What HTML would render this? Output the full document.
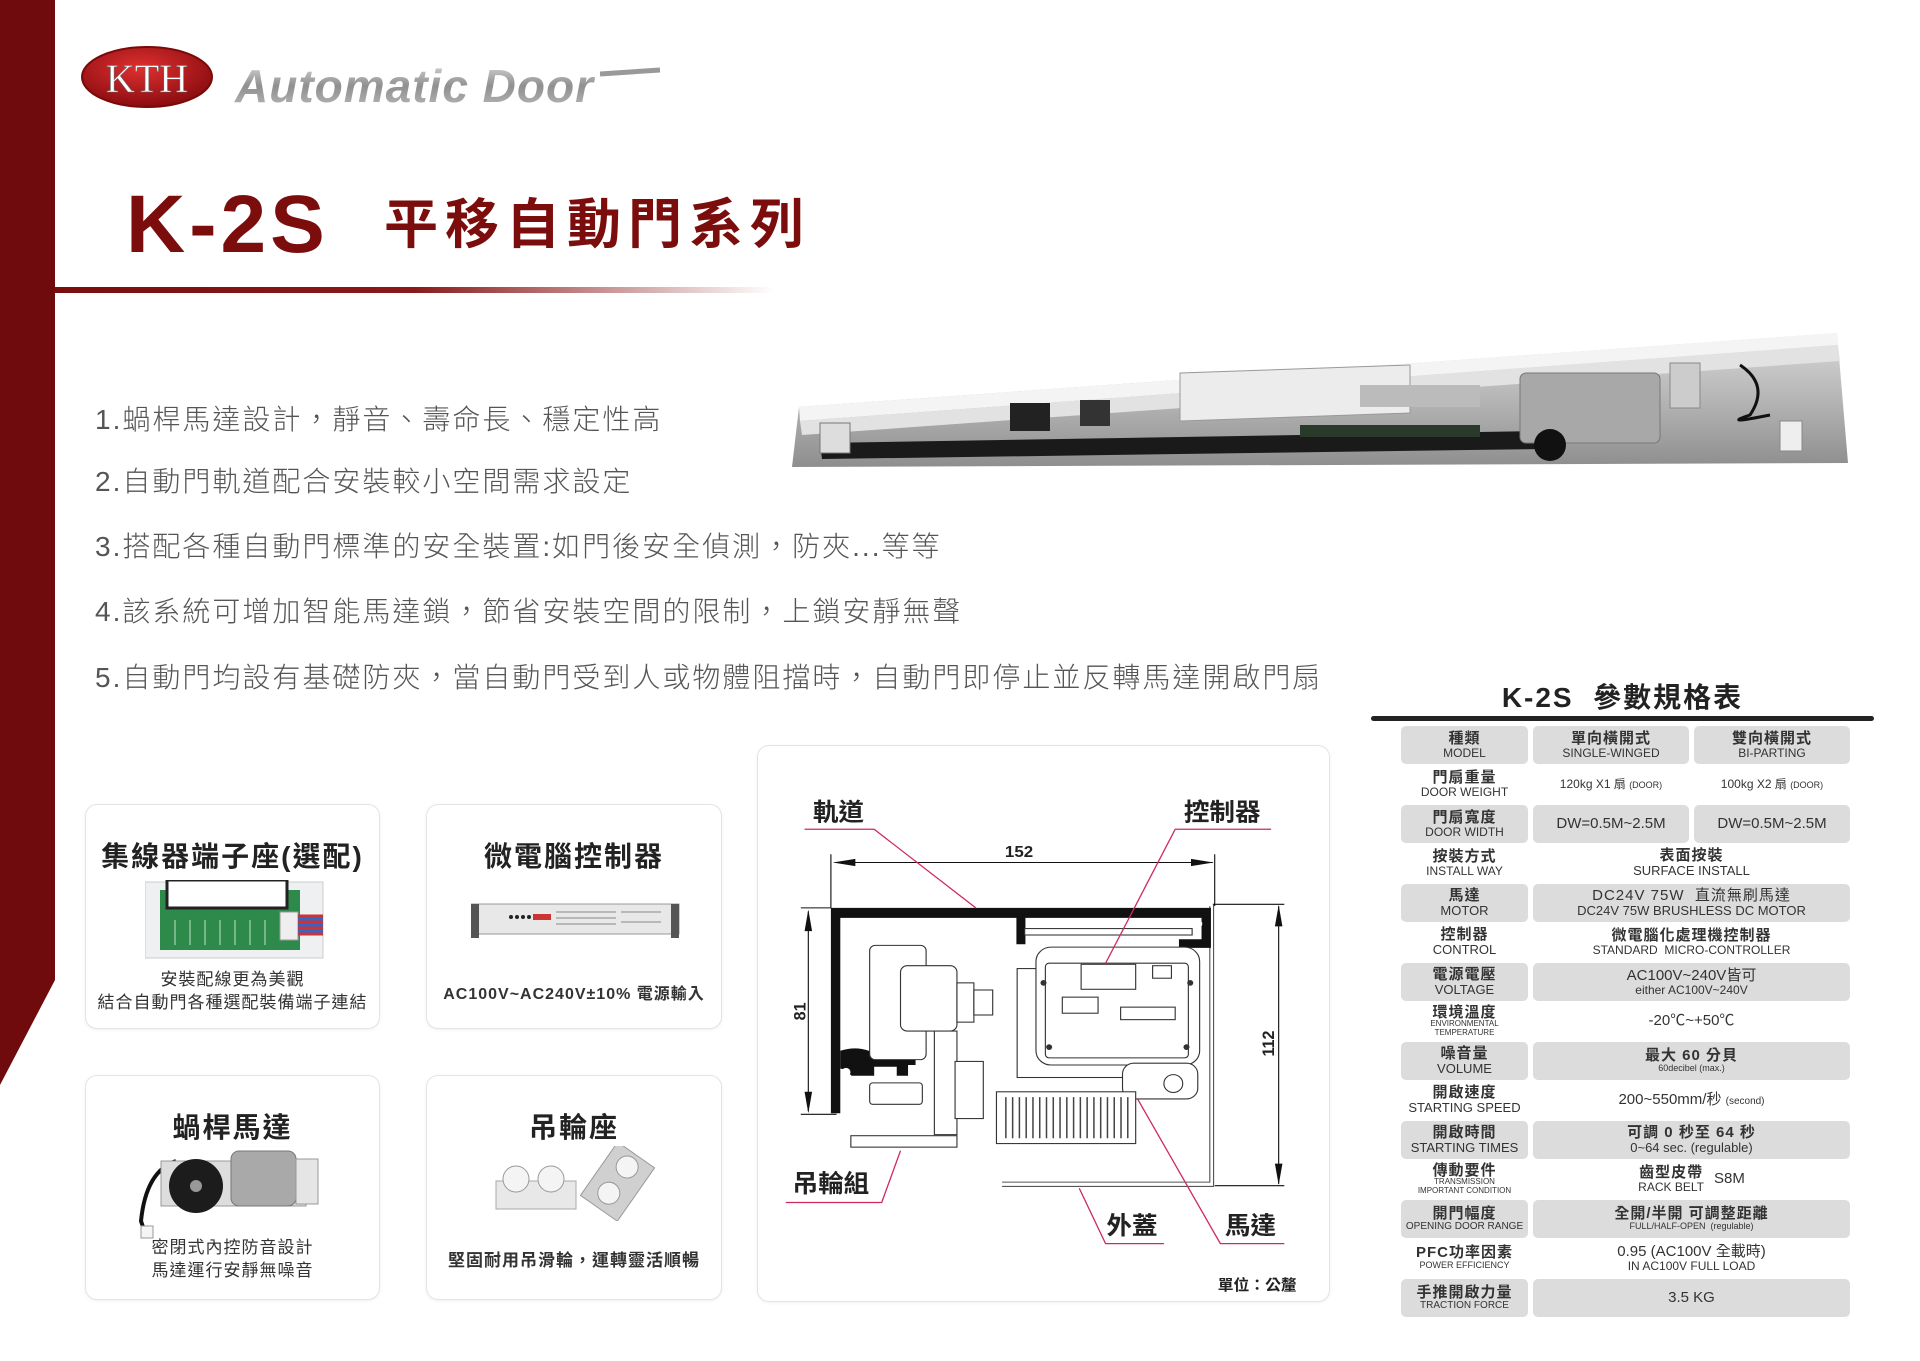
<!DOCTYPE html>
<html><head><meta charset="utf-8">
<style>
*{margin:0;padding:0;box-sizing:border-box}
body{width:1920px;height:1361px;background:#fff;position:relative;overflow:hidden;font-family:"Liberation Sans","Noto Sans CJK TC",sans-serif;color:#333}
.abs{position:absolute}
.bul{position:absolute;left:95px;font-size:28px;letter-spacing:2px;color:#555;line-height:34px;white-space:nowrap;font-weight:300}
.card{position:absolute;border:1.5px solid #e4e4e4;border-radius:12px;background:#fff;box-shadow:0 1px 3px rgba(0,0,0,.06)}
.ct{position:absolute;left:0;right:0;text-align:center;font-weight:bold;font-size:28px;letter-spacing:2px;color:#222;white-space:nowrap}
.cx{position:absolute;left:0;right:0;text-align:center;font-size:17px;letter-spacing:1px;color:#333;white-space:nowrap;font-weight:bold}
.row{position:absolute;left:1401px;width:449px;height:38px}
.c{position:absolute;top:0;height:38px;display:flex;flex-direction:column;align-items:center;justify-content:center;text-align:center;border-radius:5px;line-height:1.05;white-space:nowrap;color:#333}
.s .c{background:#dcdcdc}
.c1{left:0;width:127px}
.c2{left:132px;width:156px}
.c3{left:293px;width:156px}
.cm{left:132px;width:317px}
.z{font-size:15px;font-weight:bold;letter-spacing:1px}
.e{font-size:12px}
.v{font-size:15px}
</style></head><body>

<svg class="abs" style="left:0;top:0" width="60" height="1100"><polygon points="0,0 55,0 55,980 0,1085" fill="#6f0a0d"/></svg>

<svg class="abs" style="left:80px;top:44px" width="600" height="70">
<defs><radialGradient id="lg" cx="45%" cy="35%" r="65%"><stop offset="0" stop-color="#e03030"/><stop offset="1" stop-color="#8a0c10"/></radialGradient>
<linearGradient id="sg" x1="0" y1="0" x2="0" y2="1"><stop offset="0" stop-color="#e0e0e0"/><stop offset=".5" stop-color="#8f8f8f"/><stop offset="1" stop-color="#bdbdbd"/></linearGradient></defs>
<ellipse cx="67" cy="33" rx="65" ry="30" fill="url(#lg)" stroke="#7a0a0a" stroke-width="2"/>
<text x="67" y="48" text-anchor="middle" font-family="Liberation Serif,serif" font-size="40" fill="#fff" stroke="#666" stroke-width=".6">KTH</text>
<text x="155" y="58" font-family="Liberation Sans,sans-serif" font-style="italic" font-weight="bold" font-size="46" letter-spacing="1" fill="url(#sg)">Automatic Door</text>
<line x1="520" y1="30" x2="580" y2="26" stroke="#999" stroke-width="5"/>
</svg>

<div class="abs" style="left:126px;top:180px;font-size:82px;font-weight:900;color:#7b0d0d;letter-spacing:4px;line-height:90px;font-family:'Liberation Sans',sans-serif">K-2S</div>
<div class="abs" style="left:384px;top:192px;font-size:54px;font-weight:bold;color:#7b0d0d;letter-spacing:7px;line-height:66px;font-family:'Liberation Sans','Noto Sans CJK TC',sans-serif">平移自動門系列</div>
<div class="abs" style="left:55px;top:287px;width:720px;height:6px;background:linear-gradient(90deg,#7b0d0d 0%,#8a1a1a 50%,rgba(160,60,60,0) 100%)"></div>

<div class="bul" style="top:403px">1.蝸桿馬達設計，靜音、壽命長、穩定性高</div>
<div class="bul" style="top:465px">2.自動門軌道配合安裝較小空間需求設定</div>
<div class="bul" style="top:530px">3.搭配各種自動門標準的安全裝置:如門後安全偵測，防夾...等等</div>
<div class="bul" style="top:595px">4.該系統可增加智能馬達鎖，節省安裝空間的限制，上鎖安靜無聲</div>
<div class="bul" style="top:661px">5.自動門均設有基礎防夾，當自動門受到人或物體阻擋時，自動門即停止並反轉馬達開啟門扇</div>

<svg class="abs" style="left:780px;top:325px" width="1080" height="150">
<defs><linearGradient id="al" x1="0" y1="0" x2="0" y2="1"><stop offset="0" stop-color="#d8d8d8"/><stop offset=".5" stop-color="#b5b5b5"/><stop offset="1" stop-color="#8e8e8e"/></linearGradient></defs>
<polygon points="19,82 1057,8 1068,138 12,142" fill="url(#al)"/>
<polygon points="19,82 1057,8 1058,20 20,96" fill="#f4f4f4"/>
<polygon points="20,96 1058,20 1060,36 22,110" fill="#e2e2e2"/>
<polygon points="40,118 760,106 765,124 42,134" fill="#1a1a1a"/>
<rect x="400" y="62" width="230" height="48" fill="#ececec" stroke="#999" transform="skewY(-2)"/>
<rect x="230" y="78" width="40" height="28" fill="#222"/>
<rect x="300" y="75" width="30" height="26" fill="#333"/>
<rect x="520" y="100" width="180" height="12" fill="#2a3a2a"/>
<rect x="580" y="60" width="120" height="22" fill="#bbb"/>
<rect x="740" y="48" width="140" height="70" rx="6" fill="#a8a8a8" stroke="#777"/>
<circle cx="770" cy="120" r="16" fill="#111"/>
<rect x="890" y="38" width="30" height="45" fill="#ccc" stroke="#888"/>
<path d="M960,40 q30,20 10,50 q-30,10 20,0" stroke="#111" stroke-width="3" fill="none"/>
<rect x="1000" y="96" width="22" height="30" fill="#eee" stroke="#888"/>
<rect x="40" y="98" width="30" height="30" fill="#ddd" stroke="#777"/>
</svg>

<div class="abs" style="left:1371px;top:676px;width:503px;text-align:center;font-size:28px;font-weight:bold;color:#222;letter-spacing:2px">K-2S&nbsp;&nbsp;參數規格表</div>
<div class="abs" style="left:1371px;top:716px;width:503px;height:5px;background:#222;border-radius:3px"></div>

<div class="row s" style="top:726px"><div class="c c1"><span class="z">種類</span><span class="e">MODEL</span></div><div class="c c2"><span class="z">單向橫開式</span><span class="e">SINGLE-WINGED</span></div><div class="c c3"><span class="z">雙向橫開式</span><span class="e">BI-PARTING</span></div></div>
<div class="row" style="top:765px"><div class="c c1"><span class="z">門扇重量</span><span class="e">DOOR WEIGHT</span></div><div class="c c2"><span class="e">120kg X1 扇 <span style="font-size:9px">(DOOR)</span></span></div><div class="c c3"><span class="e">100kg X2 扇 <span style="font-size:9px">(DOOR)</span></span></div></div>
<div class="row s" style="top:805px"><div class="c c1"><span class="z">門扇寬度</span><span class="e">DOOR WIDTH</span></div><div class="c c2"><span class="v">DW=0.5M~2.5M</span></div><div class="c c3"><span class="v">DW=0.5M~2.5M</span></div></div>
<div class="row" style="top:844px"><div class="c c1"><span class="z">按裝方式</span><span class="e">INSTALL WAY</span></div><div class="c cm"><span class="z">表面按裝</span><span class="e" style="font-size:13px">SURFACE INSTALL</span></div></div>
<div class="row s" style="top:884px"><div class="c c1"><span class="z">馬達</span><span class="e" style="font-size:13px">MOTOR</span></div><div class="c cm"><span class="z" style="font-weight:normal">DC24V 75W&nbsp;&nbsp;直流無刷馬達</span><span class="e" style="font-size:13px">DC24V 75W BRUSHLESS DC MOTOR</span></div></div>
<div class="row" style="top:923px"><div class="c c1"><span class="z">控制器</span><span class="e" style="font-size:13px">CONTROL</span></div><div class="c cm"><span class="z">微電腦化處理機控制器</span><span class="e">STANDARD&nbsp; MICRO-CONTROLLER</span></div></div>
<div class="row s" style="top:963px"><div class="c c1"><span class="z">電源電壓</span><span class="e" style="font-size:13px">VOLTAGE</span></div><div class="c cm"><span class="v">AC100V~240V皆可</span><span class="e">either AC100V~240V</span></div></div>
<div class="row" style="top:1002px"><div class="c c1"><span class="z">環境溫度</span><span style="font-size:8px">ENVIRONMENTAL<br>TEMPERATURE</span></div><div class="c cm"><span class="v">-20℃~+50℃</span></div></div>
<div class="row s" style="top:1042px"><div class="c c1"><span class="z">噪音量</span><span class="e" style="font-size:13px">VOLUME</span></div><div class="c cm"><span class="z">最大 60 分貝</span><span style="font-size:9px">60decibel (max.)</span></div></div>
<div class="row" style="top:1081px"><div class="c c1"><span class="z">開啟速度</span><span class="e" style="font-size:13px">STARTING SPEED</span></div><div class="c cm"><span class="v">200~550mm/秒 <span style="font-size:10px">(second)</span></span></div></div>
<div class="row s" style="top:1121px"><div class="c c1"><span class="z">開啟時間</span><span class="e" style="font-size:13px">STARTING TIMES</span></div><div class="c cm"><span class="z">可調 0 秒至 64 秒</span><span class="e" style="font-size:13px">0~64 sec. (regulable)</span></div></div>
<div class="row" style="top:1160px"><div class="c c1"><span class="z">傳動要件</span><span style="font-size:8px">TRANSMISSION<br>IMPORTANT CONDITION</span></div><div class="c cm" style="flex-direction:row"><span style="display:flex;flex-direction:column;align-items:center"><span class="z">齒型皮帶</span><span class="e">RACK BELT</span></span><span class="v" style="margin-left:10px">S8M</span></div></div>
<div class="row s" style="top:1200px"><div class="c c1"><span class="z">開門幅度</span><span style="font-size:10px">OPENING DOOR RANGE</span></div><div class="c cm"><span class="z">全開/半開 可調整距離</span><span style="font-size:9px">FULL/HALF-OPEN&nbsp; (regulable)</span></div></div>
<div class="row" style="top:1239px"><div class="c c1"><span class="z">PFC功率因素</span><span style="font-size:9px">POWER EFFICIENCY</span></div><div class="c cm"><span class="v">0.95 (AC100V 全載時)</span><span class="e">IN AC100V FULL LOAD</span></div></div>
<div class="row s" style="top:1279px"><div class="c c1"><span class="z">手推開啟力量</span><span style="font-size:10px">TRACTION FORCE</span></div><div class="c cm"><span class="v">3.5 KG</span></div></div>

<div class="card" style="left:85px;top:804px;width:295px;height:225px">
 <div class="ct" style="top:30px">集線器端子座(選配)</div>
 <svg class="abs" style="left:59px;top:75px" width="180" height="80">
  <rect x="0" y="2" width="178" height="76" fill="#eef0f2" stroke="#ccc"/>
  <rect x="15" y="10" width="140" height="60" fill="#2e8a4a"/>
  <rect x="22" y="0" width="120" height="28" fill="#fff" stroke="#222" stroke-width="3"/>
  <path d="M30,40 v25 M45,40 v25 M60,40 v25 M75,40 v25 M90,40 v25 M105,40 v25 M120,40 v25" stroke="#bfe3c8" stroke-width="1"/>
  <rect x="135" y="32" width="18" height="28" fill="#eee" stroke="#999"/>
  <path d="M153,36 h25 M153,42 h25 M153,48 h25 M153,54 h25" stroke="#c33" stroke-width="3"/>
  <path d="M153,39 h25 M153,45 h25 M153,51 h25" stroke="#36c" stroke-width="3"/>
 </svg>
 <div class="cx" style="top:160px;font-weight:normal">安裝配線更為美觀</div>
 <div class="cx" style="top:183px;font-weight:normal">結合自動門各種選配裝備端子連結</div>
</div>
<div class="card" style="left:426px;top:804px;width:296px;height:225px">
 <div class="ct" style="top:30px">微電腦控制器</div>
 <svg class="abs" style="left:44px;top:97px" width="210" height="36">
  <rect x="0" y="2" width="208" height="30" fill="#e8e8e8" stroke="#999"/>
  <rect x="0" y="2" width="8" height="34" fill="#555"/><rect x="200" y="2" width="8" height="34" fill="#555"/>
  <rect x="62" y="12" width="18" height="6" fill="#c33"/>
  <circle cx="40" cy="15" r="2" fill="#222"/><circle cx="46" cy="15" r="2" fill="#222"/><circle cx="52" cy="15" r="2" fill="#222"/><circle cx="58" cy="15" r="2" fill="#222"/>
  <path d="M85,10h60M85,16h60M85,22h60M150,10h40M150,20h40" stroke="#888"/>
 </svg>
 <div class="cx" style="top:175px;font-size:16px">AC100V~AC240V±10% 電源輸入</div>
</div>
<div class="card" style="left:85px;top:1075px;width:295px;height:225px">
 <div class="ct" style="top:30px">蝸桿馬達</div>
 <svg class="abs" style="left:50px;top:65px" width="200" height="100">
  <path d="M40,20 q-30,10 -35,60 l5,15" stroke="#111" stroke-width="4" fill="none"/>
  <rect x="25" y="20" width="145" height="45" fill="#ddd" stroke="#999"/>
  <rect x="95" y="10" width="65" height="55" rx="8" fill="#a9a9a9" stroke="#777"/>
  <circle cx="60" cy="45" r="27" fill="#1c1c1c"/><circle cx="60" cy="45" r="6" fill="#999"/>
  <rect x="160" y="18" width="22" height="45" fill="#e5e5e5" stroke="#999"/>
  <rect x="5" y="85" width="12" height="12" fill="#f5f5f5" stroke="#999"/>
 </svg>
 <div class="cx" style="top:157px;font-weight:normal">密閉式內控防音設計</div>
 <div class="cx" style="top:180px;font-weight:normal">馬達運行安靜無噪音</div>
</div>
<div class="card" style="left:426px;top:1075px;width:296px;height:225px">
 <div class="ct" style="top:30px">吊輪座</div>
 <svg class="abs" style="left:64px;top:70px" width="170" height="75">
  <rect x="5" y="35" width="80" height="28" fill="#e8e8e8" stroke="#aaa"/>
  <circle cx="25" cy="33" r="13" fill="#f4f4f4" stroke="#999"/><circle cx="60" cy="33" r="13" fill="#f4f4f4" stroke="#999"/>
  <g transform="rotate(35 130 35)"><rect x="105" y="5" width="45" height="65" fill="#d0d0d0" stroke="#999"/><circle cx="127" cy="20" r="11" fill="#f4f4f4" stroke="#999"/><circle cx="127" cy="52" r="11" fill="#f4f4f4" stroke="#999"/></g>
 </svg>
 <div class="cx" style="top:170px">堅固耐用吊滑輪，運轉靈活順暢</div>
</div>

<div class="card" style="left:757px;top:745px;width:573px;height:557px"></div>
<svg class="abs" style="left:750px;top:740px" width="590" height="560" viewBox="0 0 1568 1568" preserveAspectRatio="none">
 <g stroke="#111" stroke-width="3" fill="none">
  <line x1="215" y1="320" x2="215" y2="470"/><line x1="1235" y1="320" x2="1235" y2="465"/>
  <line x1="225" y1="343" x2="1230" y2="343"/>
  <line x1="135" y1="470" x2="215" y2="470"/><line x1="135" y1="1048" x2="230" y2="1048"/>
  <line x1="155" y1="480" x2="155" y2="1040"/>
  <line x1="1230" y1="460" x2="1420" y2="460"/><line x1="1235" y1="1248" x2="1420" y2="1248"/>
  <line x1="1405" y1="465" x2="1405" y2="1243"/>
 </g>
 <g fill="#111">
  <polygon points="220,343 280,333 280,353"/><polygon points="1232,343 1172,333 1172,353"/>
  <polygon points="155,475 145,535 165,535"/><polygon points="155,1045 145,985 165,985"/>
  <polygon points="1405,462 1395,522 1415,522"/><polygon points="1405,1246 1395,1186 1415,1186"/>
 </g>
 <g font-family="Liberation Sans,sans-serif" font-weight="bold" font-size="45" fill="#222">
  <text x="715" y="328" text-anchor="middle">152</text>
  <text transform="translate(148,760) rotate(-90)" text-anchor="middle">81</text>
  <text transform="translate(1393,850) rotate(-90)" text-anchor="middle">112</text>
 </g>
 <path d="M670,1238 H1222 V465 M670,1250 H1232 V462" stroke="#555" stroke-width="3" fill="none"/>
 <path d="M215,470 H1225 V582 H1140 V558 H1200 V498 H732 V572 H708 V498 H240 V1045 H215 Z" fill="#111"/>
 <path d="M240,870 q60,-20 110,20 q40,-40 90,-20 v40 h-20 v30 h-30 v-25 h-60 v25 h-60 q-20,-20 -30,-20 z" fill="#111"/>
 <circle cx="255" cy="515" r="12" fill="#fff"/><circle cx="255" cy="930" r="12" fill="#fff"/><circle cx="1190" cy="515" r="12" fill="#fff"/>
 <g stroke="#333" stroke-width="3" fill="#fff">
  <rect x="318" y="575" width="150" height="320" rx="15"/>
  <rect x="400" y="632" width="150" height="183" rx="18"/>
  <rect x="550" y="680" width="45" height="110"/><rect x="595" y="700" width="50" height="70"/>
  <rect x="490" y="815" width="60" height="290"/>
  <rect x="318" y="960" width="140" height="60" rx="8"/>
  <rect x="545" y="900" width="75" height="160"/>
  <rect x="268" y="1108" width="282" height="32"/>
 </g>
 <g stroke="#333" stroke-width="3" fill="#fff">
  <rect x="710" y="640" width="290" height="305"/>
  <rect x="730" y="528" width="445" height="18"/>
  <rect x="760" y="580" width="435" height="330" rx="40"/>
  <rect x="785" y="625" width="380" height="265" rx="10"/>
  <rect x="880" y="628" width="145" height="70"/>
  <rect x="830" y="720" width="95" height="45"/>
  <rect x="985" y="748" width="145" height="35"/>
  <rect x="1070" y="632" width="50" height="35"/>
  <rect x="990" y="905" width="200" height="100" rx="30"/>
  <rect x="655" y="985" width="370" height="145"/>
 </g>
 <circle cx="1125" cy="962" r="25" fill="#fff" stroke="#333" stroke-width="3"/>
 <circle cx="780" cy="680" r="8" fill="#333"/><circle cx="1170" cy="680" r="8" fill="#333"/><circle cx="795" cy="860" r="8" fill="#333"/><circle cx="1160" cy="860" r="8" fill="#333"/>
 <path d="M680,1000 V1115 M698,1000 V1115 M716,1000 V1115 M734,1000 V1115 M752,1000 V1115 M770,1000 V1115 M788,1000 V1115 M806,1000 V1115 M824,1000 V1115 M842,1000 V1115 M860,1000 V1115 M878,1000 V1115 M896,1000 V1115 M914,1000 V1115 M932,1000 V1115 M950,1000 V1115 M968,1000 V1115 M986,1000 V1115 M1004,1000 V1115" stroke="#444" stroke-width="4"/>
 <g stroke="#cf2a5c" stroke-width="3.5" fill="none">
  <polyline points="145,250 330,250 600,470"/>
  <polyline points="1385,250 1130,250 945,625"/>
  <polyline points="95,1295 350,1295 400,1150"/>
  <polyline points="1100,1410 945,1410 875,1255"/>
  <polyline points="1420,1410 1250,1410 1030,1005"/>
 </g>
 <g font-family="Liberation Sans,Noto Sans CJK TC,sans-serif" font-weight="bold" font-size="68" fill="#222" text-anchor="middle">
  <text x="235" y="225">軌道</text>
  <text x="1255" y="225">控制器</text>
  <text x="215" y="1265">吊輪組</text>
  <text x="1015" y="1383">外蓋</text>
  <text x="1330" y="1383">馬達</text>
  <text x="1348" y="1540" font-size="42">單位：公釐</text>
 </g>
</svg>
</body></html>
